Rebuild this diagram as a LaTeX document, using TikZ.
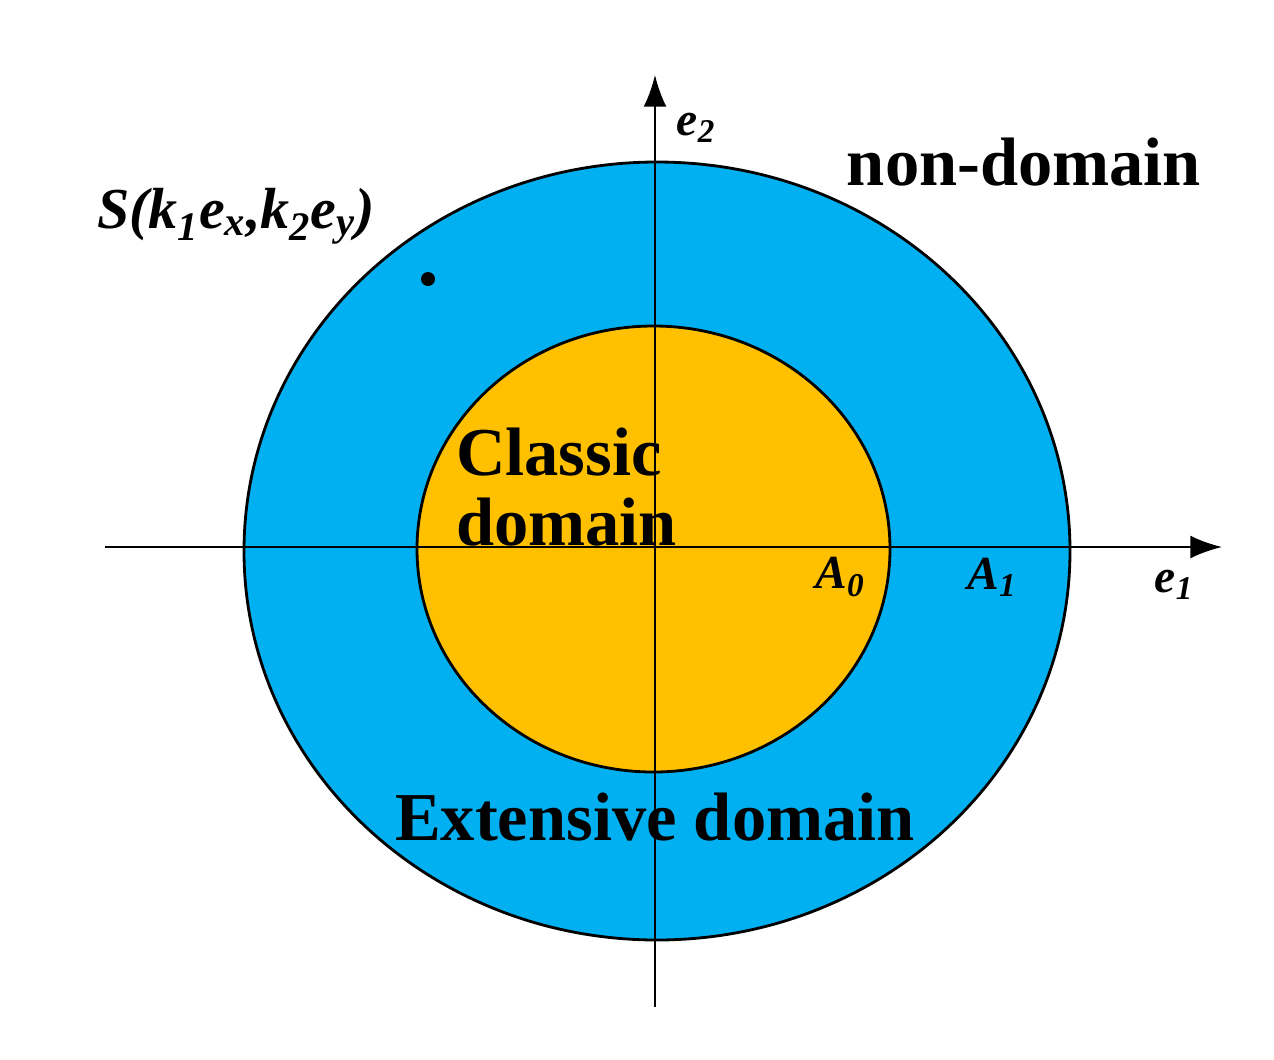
\documentclass[tikz,border=0pt]{standalone}
\usepackage{fontspec}
\setmainfont{Liberation Serif}
\begin{document}
\begin{tikzpicture}[x=0.02cm,y=-0.02cm,
  big/.style={font=\fontsize{39}{44}\selectfont\bfseries},
  lbl/.style={font=\fontsize{27}{30}\selectfont\bfseries\itshape},
  axis/.style={line width=1.2pt,-{Latex[length=18pt,width=13pt]}}]
\usetikzlibrary{arrows.meta}
\useasboundingbox (0,0) rectangle (1274,1059);
\definecolor{blu}{RGB}{0,176,240}
\definecolor{org}{RGB}{255,192,0}
\draw[line width=1.6pt,fill=blu] (657,551) ellipse [x radius=413,y radius=389];
\draw[line width=1.6pt,fill=org] (653.5,549) ellipse [x radius=236.5,y radius=223];
\node[big,align=left,anchor=west] (cl) at (450,487) {Classic\\[-4pt]domain};
\draw[axis] (105,547) coordinate (xl) -- (1222,547) coordinate (xr);
\draw[axis] (655,1007) coordinate (yb) -- (655,75) coordinate (yt);
\node[big] (nd) at (1024,162) {non-domain};
\node[big] (ed) at (655,817) {Extensive domain};
\node[lbl,font=\fontsize{33}{36}\selectfont\bfseries\itshape] (s) at (236,216) {S(k\textsubscript{1}e\textsubscript{x},k\textsubscript{2}e\textsubscript{y})};
\fill (428,279) circle (7);
\node[lbl] (a0) at (840,577) {A\textsubscript{0}};
\node[lbl] (a1) at (992,577) {A\textsubscript{1}};
\node[lbl] (e1) at (1174,585) {e\textsubscript{1}};
\node[lbl] (e2) at (696,128) {e\textsubscript{2}};
\end{tikzpicture}
\end{document}
